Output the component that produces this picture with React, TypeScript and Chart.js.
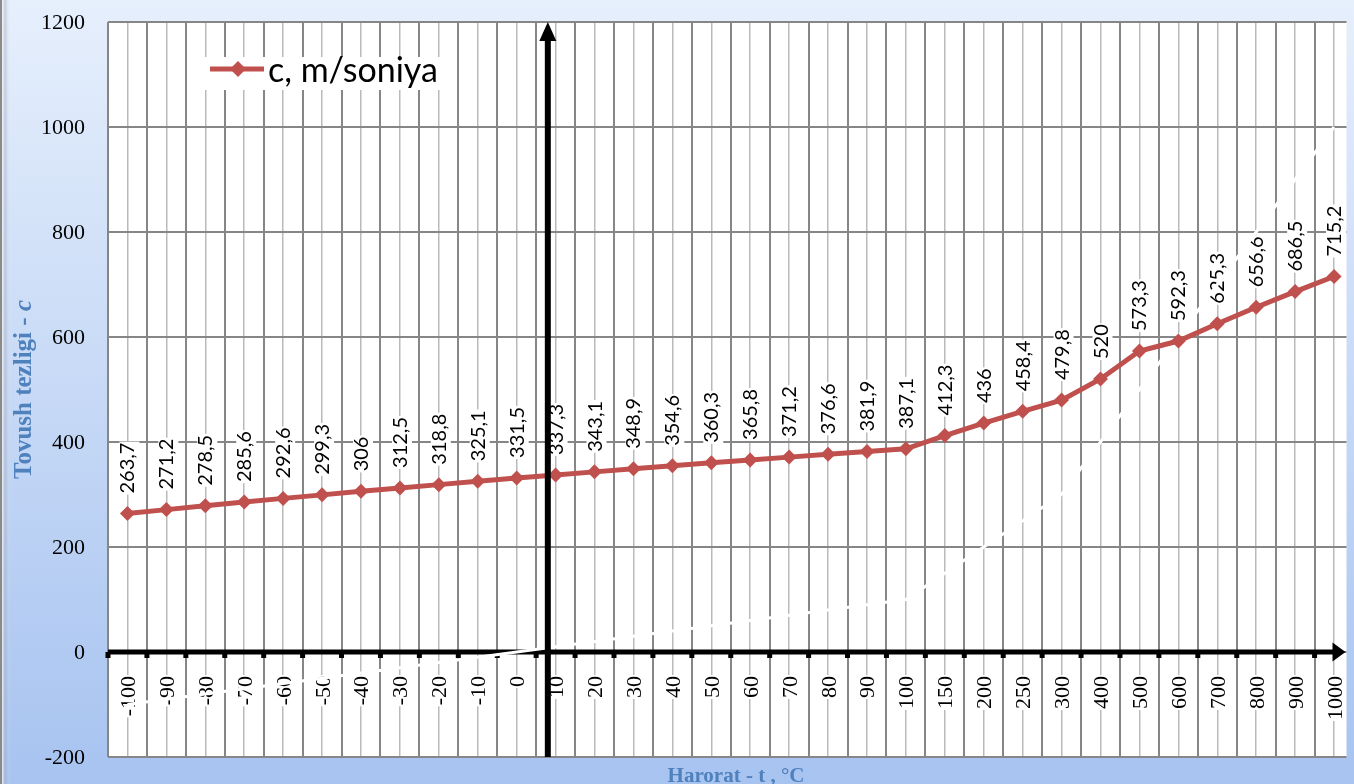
import React, { useEffect, useRef } from "react";
import { Chart, registerables } from "chart.js";

Chart.register(...registerables);

// ---- data ----
const temperatureLabels = [
  "-100", "-90", "-80", "-70", "-60", "-50", "-40", "-30", "-20", "-10", "0",
  "10", "20", "30", "40", "50", "60", "70", "80", "90", "100",
  "150", "200", "250", "300", "400", "500", "600", "700", "800", "900", "1000",
];
const temperatureValues = [
  -100, -90, -80, -70, -60, -50, -40, -30, -20, -10, 0,
  10, 20, 30, 40, 50, 60, 70, 80, 90, 100,
  150, 200, 250, 300, 400, 500, 600, 700, 800, 900, 1000,
];
const soundSpeeds = [
  263.7, 271.2, 278.5, 285.6, 292.6, 299.3, 306, 312.5, 318.8, 325.1, 331.5,
  337.3, 343.1, 348.9, 354.6, 360.3, 365.8, 371.2, 376.6, 381.9, 387.1,
  412.3, 436, 458.4, 479.8, 520, 573.3, 592.3, 625.3, 656.6, 686.5, 715.2,
];
const yTickValues = [-200, 0, 200, 400, 600, 800, 1000, 1200];

const seriesName = "c, m/soniya";
const yTitleMain = "Tovush tezligi - ";
const yTitleVar = "c";
const xTitle = "Harorat - t , \u00B0C";

// ---- axis / style settings ----
const X_MIN = -0.5;
const X_MAX = 31.32;
const Y_ARROW_AT = 10.8; // x-position (category units) of the vertical axis arrow
const RED = "#c0504d";
const TITLE_BLUE = "#4f81bd";
const GRID_DARK = "#868686";
const GRID_LIGHT = "#bababa";
const SERIF = '"Liberation Serif", "DejaVu Serif", serif';
const SANS = 'Lato, "Open Sans", sans-serif';

const fmt = (v: number) => String(v).replace(".", ",");

const drawPlugin = {
  id: "customDraw",
  beforeDraw(chart: any) {
    const { ctx, width, height, chartArea: ca } = chart;
    ctx.save();
    const g = ctx.createLinearGradient(0, 0, 0, height);
    g.addColorStop(0, "#e6effc");
    g.addColorStop(1, "#a7c3f0");
    ctx.fillStyle = g;
    ctx.fillRect(0, 0, width, height);
    ctx.fillStyle = "#8a8a8a";
    ctx.fillRect(0, 0, 2, height);
    const lg = ctx.createLinearGradient(2, 0, 11, 0);
    lg.addColorStop(0, "rgba(255,255,255,0.75)");
    lg.addColorStop(0.4, "rgba(150,160,180,0.35)");
    lg.addColorStop(1, "rgba(255,255,255,0)");
    ctx.fillStyle = lg;
    ctx.fillRect(2, 0, 9, height);
    ctx.fillStyle = "#ffffff";
    ctx.fillRect(ca.left, ca.top, ca.right - ca.left, ca.bottom - ca.top);
    ctx.restore();
  },
  beforeDatasetsDraw(chart: any) {
    const { ctx, chartArea: ca } = chart;
    const xs = chart.scales.x;
    const ys = chart.scales.y;
    const zeroY = ys.getPixelForValue(0);
    ctx.save();
    // x tick labels (rotated) below the zero line
    ctx.font = `22px ${SERIF}`;
    temperatureLabels.forEach((lab, i) => {
      const px = xs.getPixelForValue(i);
      const w = ctx.measureText(lab).width;
      ctx.save();
      ctx.translate(px + 7.5, zeroY + 24);
      ctx.rotate(-Math.PI / 2);
      ctx.fillStyle = "#ffffff";
      ctx.fillRect(-w - 1, -16, w + 2, 19);
      ctx.fillStyle = "#000000";
      ctx.textAlign = "right";
      ctx.textBaseline = "alphabetic";
      ctx.fillText(lab, 0, 0);
      ctx.restore();
    });
    // data labels
    ctx.font = `20px ${SANS}`;
    soundSpeeds.forEach((v, i) => {
      const px = xs.getPixelForValue(i);
      const py = ys.getPixelForValue(v);
      const lab = fmt(v);
      const w = ctx.measureText(lab).width;
      ctx.save();
      ctx.translate(px + 7, py - 20);
      ctx.rotate(-Math.PI / 2);
      ctx.fillStyle = "#ffffff";
      ctx.fillRect(-1, -15, w + 2, 20);
      ctx.fillStyle = "#000000";
      ctx.textAlign = "left";
      ctx.textBaseline = "alphabetic";
      ctx.fillText(lab, 0, 0);
      ctx.restore();
    });
    // horizontal axis arrow at y = 0
    ctx.fillStyle = "#000000";
    ctx.fillRect(ca.left, zeroY - 2.5, ca.right - 12 - ca.left, 5);
    ctx.beginPath();
    ctx.moveTo(ca.right - 1, zeroY);
    ctx.lineTo(ca.right - 14, zeroY - 9.5);
    ctx.lineTo(ca.right - 14, zeroY + 9.5);
    ctx.closePath();
    ctx.fill();
    for (let k = 0; k < temperatureLabels.length; k++) {
      const bx = xs.getPixelForValue(k - 0.5);
      if (bx < ca.right - 14) ctx.fillRect(bx - 2.5, zeroY, 5, 6);
    }
    ctx.restore();
  },
  afterDatasetsDraw(chart: any) {
    const { ctx, chartArea: ca } = chart;
    const xs = chart.scales.x;
    const ys = chart.scales.y;
    ctx.save();
    // vertical axis arrow
    const ax = xs.getPixelForValue(Y_ARROW_AT);
    ctx.fillStyle = "#000000";
    ctx.fillRect(ax - 3, ca.top + 14, 6, ca.bottom - ca.top - 14);
    ctx.beginPath();
    ctx.moveTo(ax, ca.top);
    ctx.lineTo(ax - 8.5, ca.top + 19);
    ctx.lineTo(ax + 8.5, ca.top + 19);
    ctx.closePath();
    ctx.fill();

    // legend
    ctx.fillStyle = "#ffffff";
    ctx.fillRect(204, 57, 244, 33);
    ctx.strokeStyle = RED;
    ctx.lineWidth = 5;
    ctx.beginPath();
    ctx.moveTo(210, 69);
    ctx.lineTo(264, 69);
    ctx.stroke();
    ctx.fillStyle = RED;
    ctx.beginPath();
    ctx.moveTo(238, 61);
    ctx.lineTo(246, 69);
    ctx.lineTo(238, 77);
    ctx.lineTo(230, 69);
    ctx.closePath();
    ctx.fill();
    ctx.fillStyle = "#000000";
    ctx.font = `34px ${SANS}`;
    ctx.textAlign = "left";
    ctx.textBaseline = "alphabetic";
    ctx.fillText(seriesName, 268, 82);

    // y tick labels
    ctx.font = `22px ${SERIF}`;
    ctx.textAlign = "right";
    ctx.textBaseline = "middle";
    yTickValues.forEach((v) => {
      ctx.fillText(String(v), 85, ys.getPixelForValue(v) + 1);
    });

    // y title
    ctx.save();
    ctx.translate(31, (ca.top + ca.bottom) / 2);
    ctx.rotate(-Math.PI / 2);
    ctx.fillStyle = TITLE_BLUE;
    ctx.textBaseline = "alphabetic";
    ctx.textAlign = "left";
    const fMain = `bold 25px ${SERIF}`;
    const fVar = `italic bold 25px ${SERIF}`;
    ctx.font = fMain;
    const w1 = ctx.measureText(yTitleMain).width;
    ctx.font = fVar;
    const w2 = ctx.measureText(yTitleVar).width;
    const start = -(w1 + w2) / 2;
    ctx.font = fMain;
    ctx.fillText(yTitleMain, start, 0);
    ctx.font = fVar;
    ctx.fillText(yTitleVar, start + w1, 0);
    ctx.restore();

    // x title
    ctx.fillStyle = TITLE_BLUE;
    ctx.font = `bold 21px ${SERIF}`;
    ctx.textAlign = "center";
    ctx.textBaseline = "alphabetic";
    ctx.fillText(xTitle, 736, 782);
    ctx.restore();
  },
};

export default function App() {
  const canvasRef = useRef<HTMLCanvasElement | null>(null);

  useEffect(() => {
    document.body.style.margin = "0";
    document.body.style.overflow = "hidden";
    const canvas = canvasRef.current;
    if (!canvas) return;

    const chart = new Chart(canvas, {
      type: "line",
      data: {
        datasets: [
          {
            label: seriesName,
            data: soundSpeeds.map((v, i) => ({ x: i, y: v })),
            borderColor: RED,
            backgroundColor: RED,
            borderWidth: 5,
            pointStyle: "rectRot",
            pointRadius: 7.5,
            pointBorderWidth: 0,
            pointBackgroundColor: RED,
            tension: 0,
            xAxisID: "x",
            yAxisID: "y",
          },
          {
            label: "t",
            data: temperatureValues.map((v, i) => ({ x: i, y: v })),
            borderColor: "#ffffff",
            borderWidth: 3,
            pointRadius: 0,
            tension: 0,
            xAxisID: "x",
            yAxisID: "y",
          },
        ],
      },
      options: {
        animation: false,
        responsive: false,
        devicePixelRatio: 1,
        layout: { padding: { left: 108, top: 22, right: 0, bottom: 27 } },
        plugins: {
          legend: { display: false },
          tooltip: { enabled: false },
        },
        events: [],
        scales: {
          x2: {
            type: "linear",
            position: "bottom",
            min: X_MIN,
            max: X_MAX,
            afterBuildTicks: (s: any) => {
              s.ticks = temperatureLabels.map((_, i) => ({ value: i }));
            },
            afterFit: (s: any) => {
              s.height = 0;
            },
            ticks: { display: false },
            grid: { color: GRID_LIGHT, lineWidth: 1.5, drawTicks: false },
            border: { display: false },
          },
          x: {
            type: "linear",
            position: "bottom",
            min: X_MIN,
            max: X_MAX,
            afterBuildTicks: (s: any) => {
              s.ticks = temperatureLabels.map((_, i) => ({ value: i - 0.5 }));
            },
            afterFit: (s: any) => {
              s.height = 0;
            },
            ticks: { display: false },
            grid: { color: GRID_DARK, lineWidth: 2, drawTicks: false },
            border: { display: false },
          },
          y: {
            type: "linear",
            min: -200,
            max: 1200,
            afterBuildTicks: (s: any) => {
              s.ticks = yTickValues.map((v) => ({ value: v }));
            },
            afterFit: (s: any) => {
              s.width = 0;
            },
            ticks: { display: false },
            grid: { color: GRID_DARK, lineWidth: 2, drawTicks: false },
            border: { display: false },
          },
        },
      },
      plugins: [drawPlugin],
    });
    return () => chart.destroy();
  }, []);

  return (
    <canvas
      ref={canvasRef}
      width={1354}
      height={784}
      style={{ display: "block", width: "1354px", height: "784px" }}
    />
  );
}
